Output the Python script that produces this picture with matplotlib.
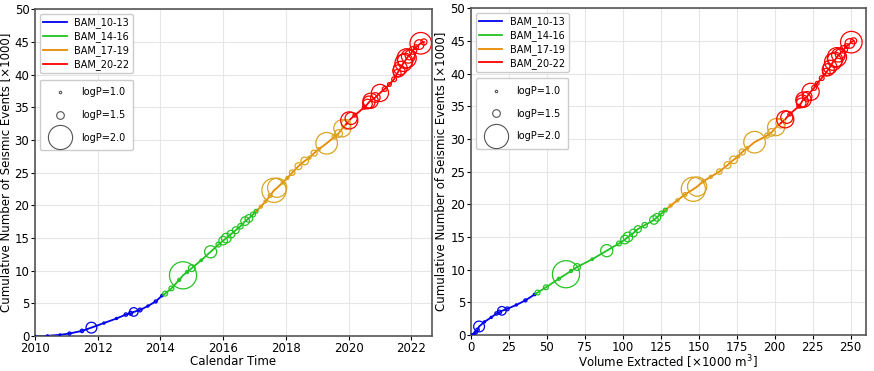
import matplotlib
matplotlib.use("Agg")
import matplotlib.pyplot as plt
from matplotlib.lines import Line2D
import numpy as np

# BAM_10-13
t_1013 = [2010.0, 2010.4, 2010.8, 2011.1, 2011.5, 2011.8, 2012.2, 2012.6, 2012.9, 2013.05, 2013.15, 2013.35, 2013.6, 2013.85, 2014.05]
n_1013 = [0.0, 0.05, 0.2, 0.4, 0.8, 1.3, 2.0, 2.7, 3.3, 3.5, 3.7, 4.0, 4.6, 5.3, 6.2]
v_1013 = [0.0, 1.0, 2.2, 3.3, 4.5, 5.5, 9.0, 13.5, 17.0, 19.0, 20.5, 24.0, 30.0, 36.0, 42.0]
p_1013 = [0.9, 0.9, 0.9, 1.1, 1.15, 1.65, 0.95, 0.95, 1.15, 1.2, 1.55, 1.2, 0.95, 1.1, 1.0]

# BAM_14-16
t_1416 = [2014.15, 2014.35, 2014.6, 2014.72, 2014.85, 2015.0, 2015.3, 2015.6, 2015.85, 2016.0, 2016.1, 2016.25, 2016.4, 2016.55, 2016.7, 2016.82, 2016.95, 2017.05]
n_1416 = [6.5, 7.3, 8.6, 9.3, 9.8, 10.4, 11.6, 12.9, 14.0, 14.6, 15.0, 15.6, 16.2, 16.8, 17.6, 18.0, 18.6, 19.1]
v_1416 = [44, 49.5, 58, 62.7, 66, 70, 80, 89.5, 97.6, 101.5, 103.5, 107, 110, 114.5, 120.6, 122.5, 125.5, 128]
p_1416 = [1.3, 1.3, 1.1, 2.05, 1.1, 1.45, 1.0, 1.7, 1.3, 1.55, 1.6, 1.5, 1.45, 1.35, 1.55, 1.5, 1.3, 1.2]

# BAM_17-19
t_1719 = [2017.2, 2017.35, 2017.5, 2017.62, 2017.72, 2017.9, 2018.05, 2018.2, 2018.4, 2018.6, 2018.75, 2018.9, 2019.05, 2019.3, 2019.55, 2019.68, 2019.8, 2019.92]
n_1719 = [19.8, 20.6, 21.5, 22.3, 22.7, 23.5, 24.2, 25.0, 26.0, 26.8, 27.3, 28.0, 28.6, 29.5, 30.5, 31.0, 31.8, 32.4]
v_1719 = [131.6, 136, 141, 146.5, 149, 153, 158, 163.6, 169, 173, 176, 178.7, 182, 186.8, 195, 198, 201, 204]
p_1719 = [1.1, 1.1, 1.2, 2.0, 1.9, 1.1, 1.1, 1.35, 1.45, 1.5, 1.1, 1.4, 1.1, 1.95, 1.3, 1.5, 1.85, 1.6]

# BAM_20-22
t_2022 = [2020.02, 2020.08, 2020.2, 2020.5, 2020.6, 2020.65, 2020.7, 2020.85, 2021.0, 2021.15, 2021.3, 2021.45, 2021.55,
          2021.6, 2021.65, 2021.75, 2021.8, 2021.85, 2021.9, 2021.95, 2022.05, 2022.15, 2022.25, 2022.3, 2022.4]
n_2022 = [33.0, 33.3, 33.8, 35.0, 35.5, 35.8, 36.0, 36.5, 37.2, 37.8, 38.5, 39.3, 40.2,
          40.6, 41.0, 41.8, 42.1, 42.5, 42.8, 43.0, 43.7, 44.2, 44.6, 44.8, 45.0]
v_2022 = [207, 208, 210, 216, 217.5, 218.2, 219, 221.4, 223.7, 226, 228, 231, 234,
          235.3, 236.5, 238.5, 239.8, 241, 242, 243, 245.5, 247.5, 249.5, 250.5, 252]
p_2022 = [1.85, 1.7, 1.2, 1.2, 1.6, 1.7, 1.8, 1.6, 1.85, 1.3, 1.2, 1.3, 1.5,
          1.7, 1.75, 1.85, 1.8, 1.9, 1.75, 1.6, 1.5, 1.3, 1.6, 1.95, 1.4]

labels = ["BAM_10-13", "BAM_14-16", "BAM_17-19", "BAM_20-22"]
line_colors = ["#0000ee", "#22c322", "#e68a00", "#ff0000"]
circ_colors = ["#0000ee", "#22c322", "#d9a520", "#ff0000"]
legend_logp = [1.0, 1.5, 2.0]

periods = [
    (t_1013, v_1013, n_1013, p_1013),
    (t_1416, v_1416, n_1416, p_1416),
    (t_1719, v_1719, n_1719, p_1719),
    (t_2022, v_2022, n_2022, p_2022),
]


def size(logp):
    return 10 ** (2 * np.asarray(logp)) / 33.0


fig = plt.figure(figsize=(8.74, 3.71), dpi=100)
ax1 = fig.add_axes([0.040, 0.094, 0.454, 0.881])
ax2 = fig.add_axes([0.5386, 0.097, 0.452, 0.881])

for ax, xi in [(ax1, 0), (ax2, 1)]:
    prev = None
    for k, per in enumerate(periods):
        x = list(per[xi])
        y = list(per[2])
        if prev is not None:
            x = [prev[0]] + x
            y = [prev[1]] + y
        ax.plot(x, y, color=line_colors[k], lw=1.3, label=labels[k], zorder=2)
        ax.scatter(per[xi], per[2], s=size(per[3]), facecolors="none",
                   edgecolors=circ_colors[k], linewidths=0.9, zorder=3)
        prev = (per[xi][-1], per[2][-1])

    ax.set_ylim(0, 50)
    ax.set_yticks(range(0, 51, 5))
    ax.grid(True, color="#e6e6e6", lw=0.8)
    ax.set_axisbelow(True)
    for sp in ax.spines.values():
        sp.set_color("#555555")
        sp.set_linewidth(1.2)
    ax.tick_params(labelsize=8.5, length=3, pad=1)
    ax.set_ylabel("Cumulative Number of Seismic Events [×1000]", fontsize=8.5, labelpad=2)

    leg1 = ax.legend(loc="upper left", bbox_to_anchor=(0.0, 1.0), fontsize=7,
                     handlelength=2.4, borderpad=0.35, labelspacing=0.3,
                     edgecolor="#cccccc", framealpha=1)
    ax.add_artist(leg1)
    handles = [Line2D([], [], ls="none", marker="o", markerfacecolor="none",
                      markeredgecolor="#555555", markeredgewidth=0.8,
                      markersize=np.sqrt(size(lp))) for lp in legend_logp]
    ax.legend(handles, ["logP=%.1f" % lp for lp in legend_logp],
              loc="upper left", bbox_to_anchor=(0.0, 0.80), fontsize=7,
              labelspacing=1.3, borderpad=0.8, handlelength=2.6,
              edgecolor="#cccccc", framealpha=1)

ax1.set_xlim(2010, 2022.65)
ax1.set_xticks(range(2010, 2023, 2))
ax1.set_xlabel("Calendar Time", fontsize=8.5, labelpad=0)

ax2.set_xlim(0, 260)
ax2.set_xticks(range(0, 251, 25))
ax2.set_xlabel("Volume Extracted [×1000 m$^3$]", fontsize=8.5, labelpad=0)

fig.savefig("out.png", dpi=100)
